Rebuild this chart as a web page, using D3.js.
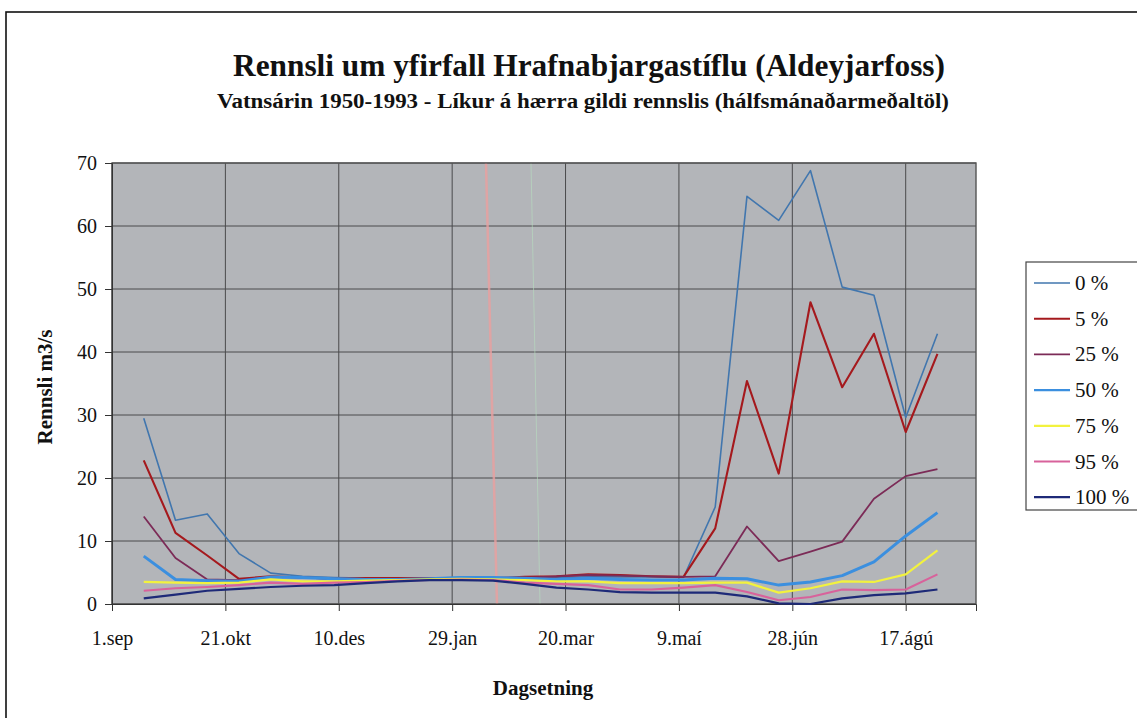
<!DOCTYPE html>
<html>
<head>
<meta charset="utf-8">
<script src="https://cdn.jsdelivr.net/npm/d3@7"></script>
<style>
  html, body { margin: 0; padding: 0; background: #ffffff; }
  svg { display: block; }
</style>
</head>
<body>
<div id="chart"></div>
<script>
// ---- DATA ----
const pointDates = [
  "1950-09-15","1950-09-29","1950-10-13","1950-10-27","1950-11-10","1950-11-24",
  "1950-12-08","1950-12-22","1951-01-05","1951-01-19","1951-02-02","1951-02-16",
  "1951-03-02","1951-03-16","1951-03-30","1951-04-13","1951-04-27","1951-05-11",
  "1951-05-25","1951-06-08","1951-06-22","1951-07-06","1951-07-20","1951-08-03",
  "1951-08-17","1951-08-31"
];
const seriesNames = ["0 %","5 %","25 %","50 %","75 %","95 %","100 %"];
const p0   = [29.5,13.3,14.3,8.0,4.9,4.4,4.2,4.1,4.1,4.1,4.2,4.2,4.0,4.2,4.3,4.3,4.3,4.2,15.4,64.7,60.9,68.8,50.3,49.0,29.6,42.9];
const p5   = [22.8,11.3,7.7,4.0,4.4,4.2,4.0,4.1,4.1,4.1,4.1,4.1,4.3,4.4,4.7,4.6,4.4,4.3,12.0,35.4,20.7,47.9,34.4,42.9,27.3,39.7];
const p25  = [13.9,7.3,3.9,3.8,4.3,4.2,4.0,4.0,4.0,4.0,4.1,4.1,4.2,4.4,4.6,4.5,4.4,4.3,4.4,12.3,6.8,8.3,9.9,16.7,20.3,21.4];
const p50  = [7.6,3.9,3.7,3.6,4.3,4.2,4.0,3.9,3.9,4.0,4.2,4.2,4.1,3.9,4.1,3.9,3.8,3.8,4.1,4.0,3.0,3.5,4.5,6.7,10.8,14.5];
const p75  = [3.5,3.4,3.3,3.4,3.9,3.6,3.6,3.7,3.8,3.9,4.0,3.9,3.8,3.6,3.6,3.3,3.3,3.3,3.4,3.4,1.8,2.5,3.6,3.5,4.7,8.5];
const p95  = [2.1,2.5,2.7,3.0,3.4,3.2,3.4,3.5,3.7,3.8,3.9,3.8,3.4,3.2,3.0,2.3,2.3,2.6,3.0,1.9,0.6,1.1,2.3,2.2,2.3,4.7];
const p100 = [0.9,1.5,2.1,2.4,2.7,2.9,3.0,3.3,3.6,3.8,3.8,3.7,3.2,2.6,2.3,1.9,1.8,1.8,1.8,1.2,0.1,0.0,0.9,1.4,1.7,2.3];
const seriesValues = [p0, p5, p25, p50, p75, p95, p100];

const xTickDates  = ["1950-09-01","1950-10-21","1950-12-10","1951-01-29","1951-03-20","1951-05-09","1951-06-28","1951-08-17"];
const xTickLabels = ["1.sep","21.okt","10.des","29.jan","20.mar","9.maí","28.jún","17.ágú"];
const yTicks = [0,10,20,30,40,50,60,70];
const xDomain = ["1950-09-01","1951-09-17"];

const titleText = "Rennsli um yfirfall Hrafnabjargastíflu (Aldeyjarfoss)";
const subtitleText = "Vatnsárin 1950-1993 - Líkur á hærra gildi rennslis (hálfsmánaðarmeðaltöl)";
const yTitle = "Rennsli m3/s";
const xTitle = "Dagsetning";

// ---- STYLE ----
const FONT = "Liberation Serif";
const colors = ["#4176ae","#a5191d","#7c2b57","#3b8fdf","#f2f23e","#d8629b","#1e2a78"];
const widths = [1.6, 2.1, 1.8, 3.0, 2.2, 2.1, 2.2];

const W = 1137, H = 718;
const plot = {left: 112, right: 976, top: 163, bottom: 604};

const parse = d3.utcParse("%Y-%m-%d");
const svg = d3.select("#chart").append("svg").attr("width", W).attr("height", H)
  .attr("font-family", FONT);

// outer frame
svg.append("rect").attr("x", 6).attr("y", 12).attr("width", W + 20).attr("height", H + 20)
  .attr("fill", "none").attr("stroke", "#111").attr("stroke-width", 1.6);

const x = d3.scaleUtc().domain(xDomain.map(parse)).range([plot.left, plot.right]);
const y = d3.scaleLinear().domain([0, 70]).range([plot.bottom, plot.top]);

// plot background
svg.append("rect").attr("x", plot.left).attr("y", plot.top)
  .attr("width", plot.right - plot.left).attr("height", plot.bottom - plot.top)
  .attr("fill", "#b3b5b9");

// grid
const grid = svg.append("g");
grid.selectAll("line.h").data(yTicks).join("line")
  .attr("x1", plot.left).attr("x2", plot.right)
  .attr("y1", d => y(d)).attr("y2", d => y(d))
  .attr("stroke", "#4a4a4c").attr("stroke-width", 1);
grid.selectAll("line.v").data(xTickDates.map(parse)).join("line")
  .attr("x1", d => x(d)).attr("x2", d => x(d))
  .attr("y1", plot.top).attr("y2", plot.bottom)
  .attr("stroke", "#4a4a4c").attr("stroke-width", 1);

// scan artifacts (faint vertical streaks)
svg.append("line").attr("x1", 486).attr("y1", plot.top).attr("x2", 497).attr("y2", plot.bottom)
  .attr("stroke", "#eaa0a0").attr("stroke-width", 2.5).attr("opacity", 0.8);
svg.append("line").attr("x1", 531).attr("y1", plot.top).attr("x2", 540).attr("y2", plot.bottom)
  .attr("stroke", "#b8e0c0").attr("stroke-width", 1).attr("opacity", 0.6);

// plot border
svg.append("rect").attr("x", plot.left).attr("y", plot.top)
  .attr("width", plot.right - plot.left).attr("height", plot.bottom - plot.top)
  .attr("fill", "none").attr("stroke", "#555").attr("stroke-width", 1.4);

// axes
const yAxis = d3.axisLeft(y).tickValues(yTicks).tickSize(7).tickPadding(8).tickFormat(d3.format("d"));
const gy = svg.append("g").attr("transform", `translate(${plot.left},0)`).call(yAxis);
gy.attr("font-family", FONT).attr("font-size", 20);
gy.select(".domain").attr("stroke", "#333");
gy.selectAll(".tick line").attr("stroke", "#333");
gy.selectAll(".tick text").attr("fill", "#111").attr("font-family", FONT);

const xAxis = d3.axisBottom(x).tickValues(xTickDates.map(parse)).tickSize(7).tickPadding(20)
  .tickFormat((d, i) => xTickLabels[i]);
const gx = svg.append("g").attr("transform", `translate(0,${plot.bottom})`).call(xAxis);
gx.attr("font-family", FONT).attr("font-size", 20);
gx.select(".domain").attr("stroke", "#333");
gx.selectAll(".tick line").attr("stroke", "#333");
gx.selectAll(".tick text").attr("fill", "#111").attr("font-family", FONT);

// lines
const line = d3.line().x((d, i) => x(parse(pointDates[i]))).y(d => y(d));
const gl = svg.append("g");
seriesValues.forEach((vals, k) => {
  gl.append("path").datum(vals).attr("d", line)
    .attr("fill", "none").attr("stroke", colors[k]).attr("stroke-width", widths[k])
    .attr("stroke-linejoin", "round");
});

// titles
svg.append("text").attr("x", 589).attr("y", 76).attr("text-anchor", "middle")
  .attr("font-family", FONT).attr("fill", "#111")
  .attr("textLength", 712).attr("lengthAdjust", "spacingAndGlyphs")
  .attr("font-size", 31).attr("font-weight", "bold").text(titleText);
svg.append("text").attr("x", 583).attr("y", 108).attr("text-anchor", "middle")
  .attr("font-family", FONT).attr("fill", "#111")
  .attr("textLength", 732).attr("lengthAdjust", "spacingAndGlyphs")
  .attr("font-size", 20).attr("font-weight", "bold").text(subtitleText);
svg.append("text").attr("transform", "translate(52,387) rotate(-90)").attr("text-anchor", "middle")
  .attr("font-family", FONT).attr("fill", "#111")
  .attr("font-size", 21).attr("font-weight", "bold").text(yTitle);
svg.append("text").attr("x", 543).attr("y", 695).attr("text-anchor", "middle")
  .attr("font-family", FONT).attr("fill", "#111")
  .attr("font-size", 21).attr("font-weight", "bold").text(xTitle);

// legend
const lg = svg.append("g");
lg.append("rect").attr("x", 1026).attr("y", 262).attr("width", 130).attr("height", 248)
  .attr("fill", "#fff").attr("stroke", "#444").attr("stroke-width", 1.2);
seriesNames.forEach((name, k) => {
  const yy = 283 + k * 35.7;
  lg.append("line").attr("x1", 1034).attr("x2", 1070).attr("y1", yy).attr("y2", yy)
    .attr("stroke", colors[k]).attr("stroke-width", Math.min(widths[k], 2.2));
  lg.append("text").attr("x", 1075).attr("y", yy + 7).attr("font-family", FONT)
    .attr("fill", "#111").attr("font-size", 21).text(name);
});
</script>
</body>
</html>
